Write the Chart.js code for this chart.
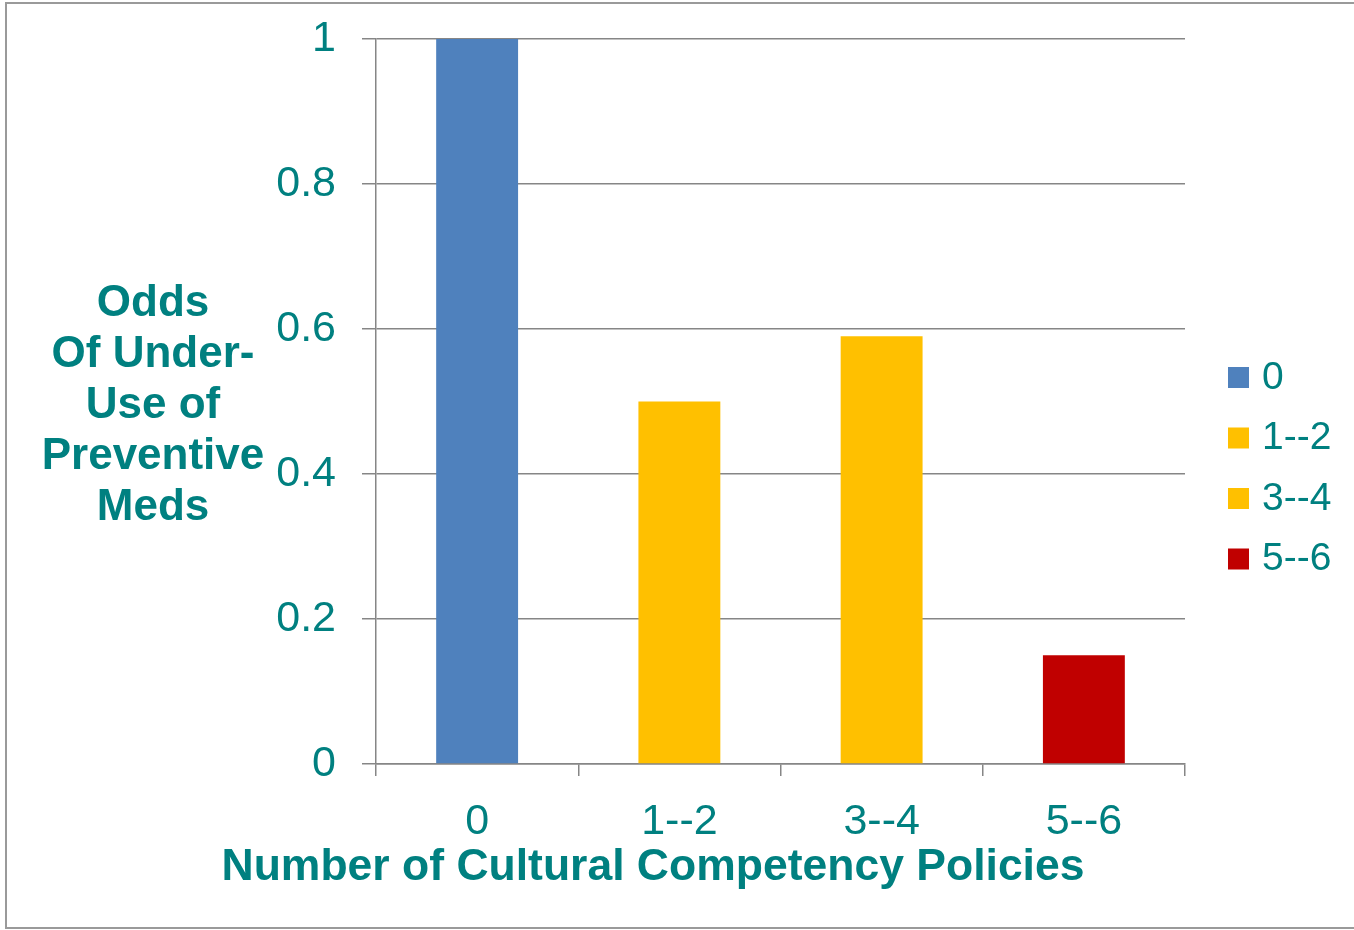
<!DOCTYPE html>
<html>
<head>
<meta charset="utf-8">
<script src="https://cdn.jsdelivr.net/npm/chart.js@4"></script>
<style>
  html, body { margin:0; padding:0; background:#fff; }
  #wrap { position:relative; width:1354px; height:930px; }
</style>
</head>
<body>
<div id="wrap"><canvas id="oddsChart" width="1354" height="930"></canvas></div>
<script>
var categories = ['0', '1--2', '3--4', '5--6']
var oddsValues = [1, 0.5, 0.59, 0.15]
var barColors = ['#4F81BD', '#FFC000', '#FFC000', '#C00000']
var yTitleLines = ['Odds', 'Of Under-', 'Use of', 'Preventive', 'Meds']
var xTitle = 'Number of Cultural Competency Policies'

var teal = '#008080'
var axisGray = '#868686'
var fontFam = '"Liberation Sans", Arial, sans-serif'

// border, axis titles and legend drawn on the canvas
var extras = {
    id:'extras',
    beforeDraw:function(chart){
        var ctx = chart.ctx
        ctx.save()
        ctx.strokeStyle = '#9a9a9a'
        ctx.lineWidth = 2
        ctx.strokeRect(6, 3, 1360, 925)
        ctx.restore()
    },
    afterDraw:function(chart){
        var ctx = chart.ctx
        ctx.save()
        ctx.fillStyle = teal
        ctx.textAlign = 'center'
        ctx.textBaseline = 'middle'
        ctx.font = 'bold 44px ' + fontFam
        for(let i=0; i<yTitleLines.length; i++){
            ctx.fillText(yTitleLines[i], 153, 304 + i*51)
        }
        ctx.font = 'bold 44.5px ' + fontFam
        ctx.fillText(xTitle, 653, 868)

        // legend
        ctx.font = '39px ' + fontFam
        ctx.textAlign = 'left'
        for(let i=0; i<categories.length; i++){
            let y = 377 + i*60.5
            ctx.fillStyle = barColors[i]
            ctx.fillRect(1228, y-10, 21, 21)
            ctx.fillStyle = teal
            ctx.fillText(categories[i], 1262, y+1)
        }
        ctx.restore()
    }
}

var oddsChart = new Chart(document.getElementById('oddsChart'), {
    type:'bar',
    data:{
        labels:categories,
        datasets:[{
            label:'Odds',
            data:oddsValues,
            backgroundColor:barColors,
            borderWidth:0,
            barPercentage:0.405,
            categoryPercentage:1
        }]
    },
    options:{
        responsive:false,
        animation:false,
        layout:{ padding:{ top:39, right:169, bottom:0, left:0 } },
        plugins:{
            legend:{ display:false },
            tooltip:{ enabled:false }
        },
        scales:{
            x:{
                offset:true,
                grid:{
                    offset:true,
                    drawOnChartArea:false,
                    drawTicks:true,
                    tickLength:12,
                    color:axisGray,
                    lineWidth:1.5
                },
                border:{ color:axisGray, width:1.5 },
                ticks:{
                    color:teal,
                    font:{ family:fontFam, size:43 },
                    padding:20,
                    maxRotation:0
                },
                afterFit:function(scale){
                    scale.height = 166
                    scale.paddingLeft = 0
                    scale.paddingRight = 0
                }
            },
            y:{
                min:0,
                max:1,
                ticks:{
                    stepSize:0.2,
                    color:teal,
                    font:{ family:fontFam, size:43 },
                    padding:26,
                    callback:function(v){ return String(Math.round(v*10)/10) }
                },
                grid:{
                    color:axisGray,
                    lineWidth:1.5,
                    tickLength:14
                },
                border:{ color:axisGray, width:1.5 },
                afterFit:function(scale){
                    scale.width = 376
                    scale.paddingTop = 0
                    scale.paddingBottom = 0
                }
            }
        }
    },
    plugins:[extras]
})
</script>
</body>
</html>
